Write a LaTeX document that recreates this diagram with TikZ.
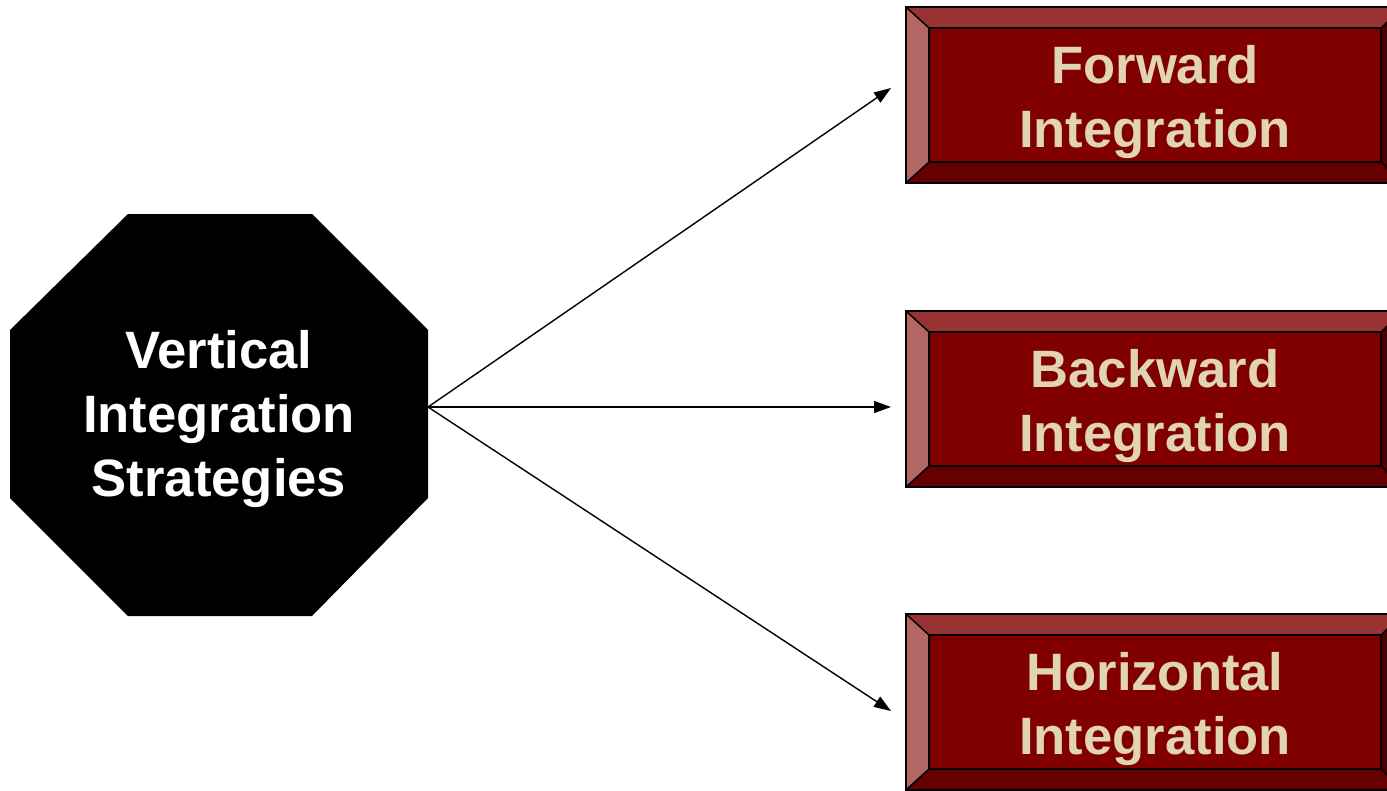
\documentclass[tikz,border=0pt]{standalone}
\usepackage{fontspec}
\setmainfont{Liberation Sans}
\usetikzlibrary{arrows.meta}
\definecolor{bevtop}{HTML}{993333}
\definecolor{bevleft}{HTML}{B36666}
\definecolor{bevbot}{HTML}{660000}
\definecolor{bevright}{HTML}{4D0000}
\definecolor{face}{HTML}{800000}
\definecolor{beige}{HTML}{E0D4B4}
\tikzset{
  bigtext/.style={font=\fontsize{52.6}{64}\selectfont\bfseries, align=center},
  facebox/.style={fill=face, draw=black, line width=1.5pt, inner sep=0pt},
  facetext/.style={bigtext, text=beige, inner sep=0pt},
  bev/.style={draw=black, line width=1.5pt, line join=miter},
  conn/.style={line width=1.4pt, -{Triangle[length=17pt,width=12pt]}}
}
\newcommand{\bevelbox}[3]{% name, top y, text
  \begin{scope}[yshift=-#2pt]
  \fill[bevtop]   (906,0) -- (1403,0) -- (1381,21) -- (929,21) -- cycle;
  \fill[bevleft]  (906,0) -- (929,21) -- (929,155) -- (906,176) -- cycle;
  \fill[bevbot]   (906,176) -- (929,155) -- (1381,155) -- (1403,176) -- cycle;
  \fill[bevright] (1403,0) -- (1381,21) -- (1381,155) -- (1403,176) -- cycle;
  \draw[bev] (906,0) rectangle (1403,176);
  \draw[bev] (906,0) -- (929,21) (1403,0) -- (1381,21) (906,176) -- (929,155) (1403,176) -- (1381,155);
  \node[facebox, minimum width=452pt, minimum height=134pt] (#1) at (1155,88) {};
  \node[facetext] (#1-t) at (1155,95) {#3};
  \end{scope}}
\begin{document}
\begin{tikzpicture}[x=1pt,y=-1pt]
\useasboundingbox (0,0) rectangle (1387,790);
\clip (0,0) rectangle (1387,790);
\fill[white] (0,0) rectangle (1387,790);
% octagon
\fill[black] (128,214) -- (312,214) -- (428,330) -- (428,498) -- (312,616) -- (128,616) -- (10,498) -- (10,330) -- cycle;
\node[bigtext, text=white, inner sep=0pt] (oct) at (219,419) {Vertical\\Integration\\Strategies};
\coordinate (src) at (428,407);
% boxes
\bevelbox{fwd}{7}{Forward\\Integration}
\bevelbox{bwd}{311}{Backward\\Integration}
\bevelbox{hor}{614}{Horizontal\\Integration}
\coordinate (tf) at (891,88);
\coordinate (tb) at (891,407);
\coordinate (th) at (891,711);
\draw[conn] (src) -- (tf);
\draw[conn] (src) -- (tb);
\draw[conn] (src) -- (th);
\end{tikzpicture}
\end{document}
